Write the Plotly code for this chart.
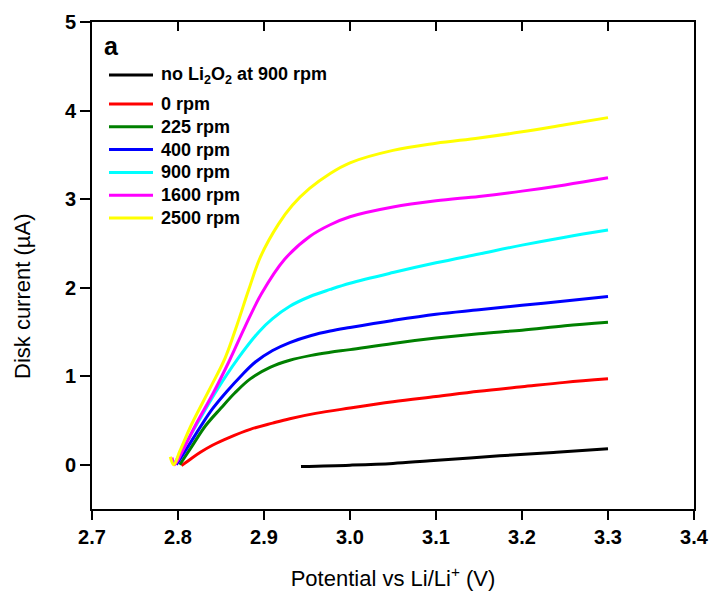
import plotly.graph_objects as go

# Disk current vs potential for Li2O2 oxidation at several rotation rates
x_blank = [2.943, 3.0, 3.05, 3.093, 3.174, 3.24, 3.3]
y_blank = [-0.02, -0.005, 0.015, 0.045, 0.10, 0.14, 0.18]

x_0 = [2.804, 2.814, 2.826, 2.840, 2.860, 2.884, 2.910, 2.930, 2.960, 3.0, 3.05, 3.1, 3.15, 3.2, 3.25, 3.3]
y_0 = [-0.01, 0.06, 0.14, 0.22, 0.31, 0.40, 0.47, 0.52, 0.58, 0.64, 0.71, 0.77, 0.83, 0.88, 0.93, 0.97]

x_225 = [2.802, 2.815, 2.832, 2.850, 2.866, 2.884, 2.907, 2.930, 2.955, 2.977, 3.0, 3.05, 3.1, 3.15, 3.2, 3.25, 3.3]
y_225 = [0.0, 0.19, 0.44, 0.64, 0.81, 0.97, 1.10, 1.18, 1.235, 1.27, 1.30, 1.37, 1.43, 1.48, 1.52, 1.57, 1.61]

x_400 = [2.798, 2.812, 2.8275, 2.840, 2.857, 2.873, 2.890, 2.910, 2.930, 2.955, 2.977, 3.0, 3.05, 3.1, 3.15, 3.2, 3.25, 3.3]
y_400 = [0.0, 0.21, 0.45, 0.63, 0.83, 1.00, 1.16, 1.29, 1.38, 1.46, 1.51, 1.55, 1.63, 1.70, 1.75, 1.80, 1.85, 1.90]

x_900 = [2.795, 2.808, 2.822, 2.845, 2.869, 2.894, 2.910, 2.930, 2.9535, 2.977, 3.0, 3.05, 3.1, 3.15, 3.2, 3.25, 3.3]
y_900 = [0.0, 0.22, 0.46, 0.84, 1.19, 1.50, 1.65, 1.79, 1.90, 1.98, 2.05, 2.17, 2.28, 2.38, 2.48, 2.57, 2.65]

x_1600 = [2.793, 2.796, 2.806, 2.820, 2.841, 2.860, 2.878, 2.897, 2.924, 2.9535, 2.977, 3.0, 3.05, 3.1, 3.15, 3.2, 3.25, 3.3]
y_1600 = [0.08, 0.0, 0.17, 0.44, 0.81, 1.18, 1.56, 1.93, 2.32, 2.58, 2.71, 2.80, 2.91, 2.98, 3.03, 3.09, 3.16, 3.24]

x_2500 = [2.791, 2.795, 2.802, 2.816, 2.836, 2.855, 2.869, 2.882, 2.896, 2.917, 2.933, 2.953, 2.977, 3.0, 3.05, 3.1, 3.15, 3.2, 3.25, 3.3]
y_2500 = [0.09, 0.0, 0.15, 0.46, 0.84, 1.21, 1.59, 1.97, 2.35, 2.72, 2.93, 3.12, 3.29, 3.41, 3.55, 3.63, 3.69, 3.76, 3.84, 3.92]

series = [
    ("no Li<sub>2</sub>O<sub>2</sub> at 900 rpm", x_blank, y_blank, "#000000"),
    ("0 rpm", x_0, y_0, "#ff0000"),
    ("225 rpm", x_225, y_225, "#008000"),
    ("400 rpm", x_400, y_400, "#0000ff"),
    ("900 rpm", x_900, y_900, "#00ffff"),
    ("1600 rpm", x_1600, y_1600, "#ff00ff"),
    ("2500 rpm", x_2500, y_2500, "#ffff00"),
]

x_ticks = [2.7, 2.8, 2.9, 3.0, 3.1, 3.2, 3.3, 3.4]
y_ticks = [0, 1, 2, 3, 4, 5]

W, H = 712, 593
M_L, M_R, M_T, M_B = 92, 18, 22, 84
PLOT_W = W - M_L - M_R
PLOT_H = H - M_T - M_B


def px_to_paper(px, py):
    """Convert a pixel position on the page to paper coordinates."""
    return (px - M_L) / PLOT_W, (H - M_B - py) / PLOT_H


fig = go.Figure()
for name, xs, ys, color in series:
    fig.add_trace(go.Scatter(
        x=xs, y=ys, name=name, mode="lines", showlegend=False,
        line=dict(color=color, width=3, shape="spline", smoothing=1.0),
    ))

# invisible trace carrying the inward-pointing top ticks
fig.add_trace(go.Scatter(x=[2.7, 3.4], y=[None, None], xaxis="x2",
                         showlegend=False, hoverinfo="skip"))

font_family = "Liberation Sans, Arial, sans-serif"

# hand-built key: short line sample plus bold label for each series
shapes, annotations = [], []
for i, (name, _, _, color) in enumerate(series):
    row_y = 75 if i == 0 else 104 + 22.8 * (i - 1)
    x0, y0 = px_to_paper(109, row_y)
    x1, _ = px_to_paper(153, row_y)
    shapes.append(dict(type="line", xref="paper", yref="paper",
                       x0=x0, x1=x1, y0=y0, y1=y0,
                       line=dict(color=color, width=3)))
    tx, ty = px_to_paper(159, row_y)
    annotations.append(dict(text=f"<b>{name}</b>", x=tx, y=ty,
                            xref="paper", yref="paper", showarrow=False,
                            xanchor="left", yanchor="middle",
                            font=dict(size=18, family=font_family)))

ax, ay = px_to_paper(111, 46)
annotations.append(dict(text="<b>a</b>", x=ax, y=ay, xref="paper", yref="paper",
                        xanchor="center", yanchor="middle", showarrow=False,
                        font=dict(size=25, family=font_family)))
tx, ty = px_to_paper(22, 297)
annotations.append(dict(text="Disk current (\u00b5A)", textangle=-90,
                        x=tx, y=ty, xref="paper", yref="paper",
                        xanchor="center", yanchor="middle", showarrow=False,
                        font=dict(size=22, family=font_family)))

fig.update_layout(
    width=W, height=H,
    margin=dict(l=M_L, r=M_R, t=M_T, b=M_B),
    paper_bgcolor="white", plot_bgcolor="white",
    font=dict(family=font_family, color="#000000"),
    showlegend=False,
    xaxis=dict(
        range=[2.7, 3.4], tickvals=x_ticks,
        ticktext=[f"{v:.1f}" for v in x_ticks],
        showline=True, linecolor="black", linewidth=2, mirror=True,
        ticks="outside", ticklen=9, tickwidth=2, tickcolor="black",
        showgrid=False, zeroline=False, automargin=False,
        tickfont=dict(size=20, weight="bold", family=font_family),
        title=dict(text="Potential vs Li/Li<sup>+</sup> (V)",
                   font=dict(size=22, family=font_family), standoff=24),
    ),
    xaxis2=dict(
        overlaying="x", side="top", range=[2.7, 3.4], tickvals=x_ticks,
        showticklabels=False, ticks="inside", ticklen=9, tickwidth=2,
        tickcolor="black", showgrid=False, zeroline=False, showline=False,
        automargin=False,
    ),
    yaxis=dict(
        range=[-0.5, 5], tickvals=y_ticks,
        showline=True, linecolor="black", linewidth=2, mirror=True,
        ticks="outside", ticklen=10, tickwidth=2, tickcolor="black",
        showgrid=False, zeroline=False, automargin=False,
        tickfont=dict(size=20, weight="bold", family=font_family),
    ),
    shapes=shapes,
    annotations=annotations,
)

fig.write_html("out.html")
